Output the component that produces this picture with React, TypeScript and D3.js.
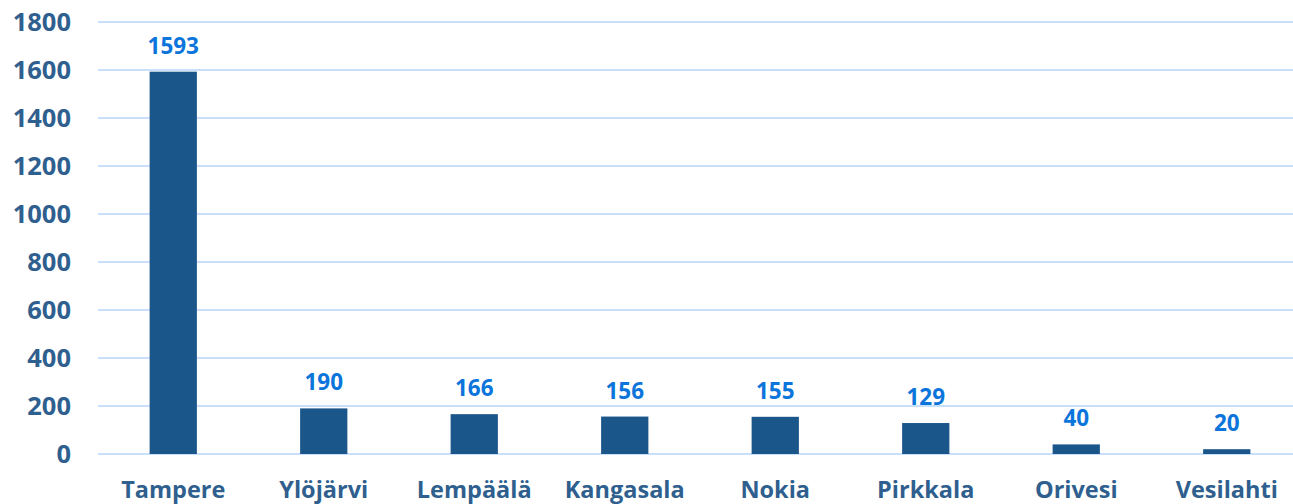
import React, { useEffect, useRef } from 'react';
import * as d3 from 'd3';

const towns = ['Tampere', 'Ylöjärvi', 'Lempäälä', 'Kangasala', 'Nokia', 'Pirkkala', 'Orivesi', 'Vesilahti'];
const counts = [1593, 190, 166, 156, 155, 129, 40, 20];
const yTicks = [0, 200, 400, 600, 800, 1000, 1200, 1400, 1600, 1800];

const App: React.FC = () => {
  const ref = useRef<SVGSVGElement | null>(null);

  useEffect(() => {
    const width = 1293;
    const height = 504;
    const font = "'Open Sans', sans-serif";

    const svg = d3.select(ref.current);
    svg.selectAll('*').remove();

    // band runs past the right edge, like the original
    const x = d3.scaleBand<string>().domain(towns).range([98, 1302]).paddingInner(0.686).paddingOuter(0.343);
    const y = d3.scaleLinear().domain([0, 1800]).range([454, 22]);

    // gridlines
    svg
      .append('g')
      .selectAll('line')
      .data(yTicks)
      .join('line')
      .attr('x1', 98)
      .attr('x2', width)
      .attr('y1', d => y(d))
      .attr('y2', d => y(d))
      .attr('stroke', '#c9e0fa')
      .attr('stroke-width', 2);

    // y labels
    svg
      .append('g')
      .selectAll('text')
      .data(yTicks)
      .join('text')
      .attr('x', 71)
      .attr('y', d => y(d))
      .attr('dy', '0.36em')
      .attr('text-anchor', 'end')
      .attr('font-family', font)
      .attr('font-weight', 700)
      .attr('font-size', 25.5)
      .attr('fill', '#2f5f8e')
      .text(d => d);

    // bars
    svg
      .append('g')
      .selectAll('rect')
      .data(counts)
      .join('rect')
      .attr('x', (_, i) => x(towns[i])!)
      .attr('y', d => y(d))
      .attr('width', x.bandwidth())
      .attr('height', d => y(0) - y(d))
      .attr('fill', '#1b568a');

    // value labels
    svg
      .append('g')
      .selectAll('text')
      .data(counts)
      .join('text')
      .attr('x', (_, i) => x(towns[i])! + x.bandwidth() / 2)
      .attr('y', d => y(d) - 18)
      .attr('text-anchor', 'middle')
      .attr('font-family', font)
      .attr('font-weight', 700)
      .attr('font-size', 22.5)
      .attr('fill', '#0b75db')
      .text(d => d);

    // category labels
    svg
      .append('g')
      .selectAll('text')
      .data(towns)
      .join('text')
      .attr('x', d => x(d)! + x.bandwidth() / 2)
      .attr('y', 498)
      .attr('text-anchor', 'middle')
      .attr('font-family', font)
      .attr('font-weight', 700)
      .attr('font-size', 23.5)
      .attr('fill', '#2f5f8e')
      .text(d => d);

    svg.attr('width', width).attr('height', height);
  }, []);

  return (
    <svg
      ref={ref}
      style={{ position: 'fixed', left: 0, top: 0, background: '#fff', overflow: 'hidden' }}
    />
  );
};

export default App;
